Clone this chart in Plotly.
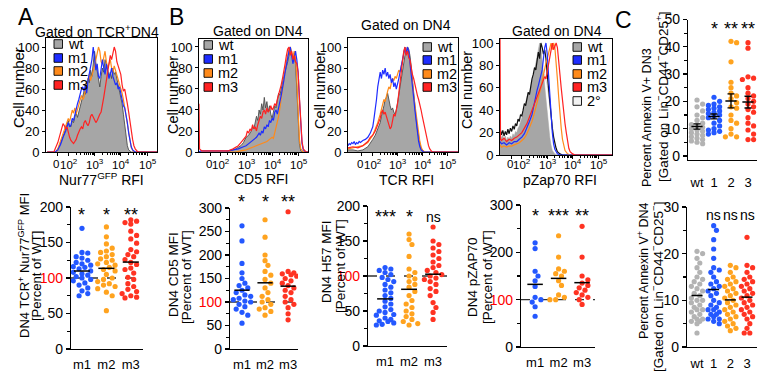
import numpy as np
import plotly.graph_objects as go

W, H = 757, 380
FONT = "Liberation Sans, Arial, Helvetica, sans-serif"

# ---------------- colours ----------------
WT_FILL = "#a6a6a6"; WT_EDGE = "#4d4d4d"
M1 = "#1e2dff"; M2 = "#ff8a1a"; M3 = "#ff2222"
DOT_WT = "#b3b3b3"; DOT_M1 = "#2458ff"; DOT_M2 = "#ffa31f"; DOT_M3 = "#ff3322"

# ---------------- histogram data: (display decade position, % of max) ----------------
NUR77_WT = [(1.2,0),(1.5,0),(1.6,3),(1.7,8),(1.8,15),(1.9,22),(1.95,26),(2.0,30),(2.05,25),(2.1,24),(2.15,30),(2.2,28),(2.25,34),(2.3,37),(2.35,33),(2.4,38),(2.45,44),(2.5,48),(2.55,52),(2.6,58),(2.65,55),(2.7,64),(2.75,70),(2.8,66),(2.85,78),(2.9,72),(2.95,88),(3.0,96),(3.05,85),(3.1,76),(3.15,68),(3.2,62),(3.25,72),(3.3,80),(3.35,76),(3.4,88),(3.45,84),(3.5,78),(3.55,72),(3.6,76),(3.65,70),(3.7,80),(3.75,74),(3.8,76),(3.85,70),(3.9,66),(3.95,60),(4.0,54),(4.05,46),(4.1,36),(4.15,24),(4.2,13),(4.25,6),(4.3,2),(4.4,0),(5.38,0)]
NUR77_M1 = [(1.2,0),(1.5,0),(1.6,2),(1.7,7),(1.8,14),(1.9,20),(2.0,28),(2.05,24),(2.1,26),(2.15,32),(2.2,30),(2.25,36),(2.3,40),(2.35,46),(2.4,50),(2.45,56),(2.5,60),(2.55,62),(2.6,58),(2.65,64),(2.7,56),(2.75,68),(2.8,74),(2.85,82),(2.9,88),(2.95,100),(3.0,90),(3.05,78),(3.1,84),(3.15,72),(3.2,70),(3.25,82),(3.3,88),(3.35,80),(3.4,74),(3.45,84),(3.5,78),(3.55,70),(3.6,74),(3.65,80),(3.7,72),(3.75,68),(3.8,64),(3.85,66),(3.9,60),(3.95,62),(4.0,56),(4.05,50),(4.1,44),(4.15,42),(4.2,36),(4.25,28),(4.3,18),(4.35,10),(4.4,5),(4.45,2),(4.55,0),(5.38,0)]
NUR77_M2 = [(1.2,0),(1.55,0),(1.6,3),(1.7,10),(1.8,18),(1.9,26),(2.0,32),(2.05,29),(2.1,34),(2.15,40),(2.2,37),(2.25,42),(2.3,36),(2.35,40),(2.4,44),(2.45,48),(2.5,54),(2.55,50),(2.6,52),(2.65,60),(2.7,64),(2.75,70),(2.8,74),(2.85,68),(2.9,72),(2.95,78),(3.0,82),(3.05,88),(3.1,94),(3.15,100),(3.2,96),(3.25,86),(3.3,84),(3.35,92),(3.4,96),(3.45,86),(3.5,80),(3.55,84),(3.6,88),(3.65,80),(3.7,76),(3.75,82),(3.8,78),(3.85,74),(3.9,70),(3.95,66),(4.0,62),(4.05,56),(4.1,50),(4.15,42),(4.2,34),(4.25,26),(4.3,18),(4.35,10),(4.4,4),(4.5,0),(5.38,0)]
NUR77_M3 = [(1.2,0),(1.45,0),(1.5,3),(1.6,9),(1.7,18),(1.75,24),(1.8,27),(1.85,25),(1.9,22),(1.95,24),(2.0,18),(2.05,14),(2.1,11),(2.15,9),(2.2,8),(2.25,10),(2.3,12),(2.35,16),(2.4,20),(2.45,22),(2.5,24),(2.55,22),(2.6,28),(2.65,30),(2.7,27),(2.75,25),(2.8,28),(2.85,34),(2.9,36),(2.95,33),(3.0,30),(3.05,28),(3.1,30),(3.15,34),(3.2,36),(3.25,38),(3.3,44),(3.35,52),(3.4,60),(3.45,68),(3.5,78),(3.55,86),(3.6,92),(3.65,88),(3.7,94),(3.75,100),(3.8,96),(3.85,86),(3.9,82),(3.95,78),(4.0,74),(4.05,64),(4.1,58),(4.15,60),(4.2,54),(4.25,46),(4.3,38),(4.35,28),(4.4,20),(4.45,12),(4.5,6),(4.55,3),(4.65,0),(5.38,0)]

CD5_WT = [(1.19,0),(2.2,0),(2.4,1),(2.6,3),(2.8,6),(2.9,9),(3.0,14),(3.1,16),(3.2,20),(3.25,24),(3.3,22),(3.35,28),(3.4,34),(3.45,30),(3.5,40),(3.55,36),(3.6,46),(3.65,40),(3.7,52),(3.75,42),(3.8,48),(3.85,38),(3.9,44),(3.95,36),(4.0,32),(4.05,38),(4.1,44),(4.15,42),(4.2,50),(4.25,56),(4.3,54),(4.35,62),(4.4,66),(4.45,72),(4.5,76),(4.55,80),(4.6,86),(4.65,92),(4.7,98),(4.75,94),(4.8,88),(4.85,92),(4.9,84),(4.95,60),(5.0,30),(5.05,8),(5.1,1),(5.2,0),(5.38,0)]
CD5_M1 = [(1.19,0),(1.25,1),(2.3,1),(2.5,2),(2.7,3),(2.9,5),(3.0,6),(3.1,8),(3.2,10),(3.3,12),(3.4,14),(3.5,18),(3.55,16),(3.6,20),(3.65,18),(3.7,24),(3.75,22),(3.8,26),(3.85,24),(3.9,30),(3.95,28),(4.0,32),(4.05,30),(4.1,38),(4.15,40),(4.2,36),(4.25,44),(4.3,48),(4.35,54),(4.4,60),(4.45,68),(4.5,76),(4.55,84),(4.6,90),(4.65,96),(4.7,100),(4.75,92),(4.8,84),(4.85,90),(4.9,96),(4.95,88),(5.0,76),(5.05,50),(5.1,24),(5.15,8),(5.2,2),(5.3,0),(5.38,0)]
CD5_M2 = [(1.19,0),(2.6,0),(2.8,1),(3.0,2),(3.2,4),(3.4,6),(3.5,7),(3.6,8),(3.7,9),(3.8,10),(3.9,12),(4.0,14),(4.05,13),(4.1,18),(4.15,22),(4.2,28),(4.25,34),(4.3,42),(4.35,52),(4.4,62),(4.45,70),(4.5,78),(4.55,86),(4.6,92),(4.65,98),(4.7,100),(4.75,96),(4.8,90),(4.85,96),(4.9,90),(4.95,70),(5.0,38),(5.05,12),(5.1,3),(5.2,0),(5.38,0)]
CD5_M3 = [(1.19,46),(1.21,3),(1.3,1),(2.3,1),(2.5,3),(2.7,6),(2.8,9),(2.9,12),(3.0,15),(3.05,20),(3.1,18),(3.15,22),(3.2,20),(3.25,26),(3.3,22),(3.35,24),(3.4,20),(3.45,26),(3.5,30),(3.55,34),(3.6,32),(3.65,38),(3.7,40),(3.75,36),(3.8,42),(3.85,38),(3.9,40),(3.95,44),(4.0,40),(4.05,42),(4.1,46),(4.15,44),(4.2,50),(4.25,54),(4.3,58),(4.35,64),(4.4,70),(4.45,76),(4.5,84),(4.55,92),(4.6,98),(4.65,100),(4.7,92),(4.75,96),(4.8,88),(4.85,92),(4.9,86),(4.95,84),(5.0,76),(5.05,52),(5.1,28),(5.15,10),(5.2,3),(5.3,0),(5.38,0)]

TCR_WT = [(1.0,2),(1.2,2),(1.4,1),(1.6,2),(1.8,5),(1.9,8),(2.0,12),(2.1,16),(2.2,22),(2.3,28),(2.35,34),(2.4,38),(2.45,44),(2.5,50),(2.55,52),(2.6,56),(2.65,48),(2.7,44),(2.75,40),(2.8,42),(2.85,38),(2.9,36),(2.95,40),(3.0,46),(3.05,54),(3.1,62),(3.15,70),(3.2,76),(3.25,84),(3.3,92),(3.35,96),(3.4,100),(3.45,98),(3.5,92),(3.55,82),(3.6,68),(3.65,56),(3.7,44),(3.75,32),(3.8,22),(3.85,14),(3.9,8),(3.95,4),(4.0,2),(4.1,0),(5.44,0)]
TCR_M1 = [(1.0,6),(1.05,8),(1.1,7),(1.15,9),(1.2,8),(1.25,10),(1.3,7),(1.35,9),(1.4,8),(1.45,10),(1.5,9),(1.6,11),(1.7,12),(1.8,14),(1.9,18),(2.0,24),(2.05,32),(2.1,40),(2.15,50),(2.2,62),(2.25,72),(2.3,76),(2.35,70),(2.4,78),(2.45,74),(2.5,80),(2.55,72),(2.6,76),(2.65,70),(2.7,74),(2.75,66),(2.8,70),(2.85,62),(2.9,66),(2.95,60),(3.0,64),(3.05,70),(3.1,76),(3.15,82),(3.2,90),(3.25,96),(3.3,100),(3.35,94),(3.4,100),(3.45,96),(3.5,86),(3.55,76),(3.6,64),(3.65,52),(3.7,40),(3.75,28),(3.8,18),(3.85,10),(3.9,5),(3.95,2),(4.05,0),(5.44,0)]
TCR_M2 = [(1.0,3),(1.2,4),(1.4,5),(1.6,6),(1.8,9),(1.9,12),(2.0,16),(2.1,22),(2.2,28),(2.3,36),(2.4,44),(2.45,50),(2.5,48),(2.55,54),(2.6,58),(2.65,62),(2.7,60),(2.75,66),(2.8,70),(2.85,68),(2.9,72),(2.95,70),(3.0,74),(3.05,78),(3.1,76),(3.15,82),(3.2,88),(3.25,94),(3.3,98),(3.35,96),(3.4,100),(3.45,94),(3.5,86),(3.55,76),(3.6,66),(3.65,54),(3.7,44),(3.75,34),(3.8,24),(3.85,16),(3.9,10),(3.95,5),(4.0,2),(4.1,0),(5.44,0)]
TCR_M3 = [(1.0,4),(1.2,5),(1.4,4),(1.6,6),(1.8,10),(1.9,14),(2.0,16),(2.1,20),(2.2,26),(2.3,32),(2.35,38),(2.4,40),(2.45,36),(2.5,38),(2.55,34),(2.6,30),(2.65,26),(2.7,22),(2.75,24),(2.8,30),(2.85,36),(2.9,34),(2.95,40),(3.0,46),(3.05,56),(3.1,66),(3.15,76),(3.2,88),(3.25,96),(3.3,100),(3.35,92),(3.4,96),(3.45,90),(3.5,88),(3.55,80),(3.6,74),(3.65,70),(3.7,64),(3.75,58),(3.8,54),(3.85,50),(3.9,46),(3.95,40),(4.0,34),(4.05,28),(4.1,22),(4.15,16),(4.2,10),(4.25,6),(4.3,3),(4.4,0),(5.44,0)]

PZAP_2ND = [(1.14,0),(1.5,2),(1.9,6),(2.2,14),(2.5,32),(2.7,52),(2.9,72),(3.0,62),(3.1,44),(3.2,26),(3.3,9),(3.4,2),(3.5,0),(5.55,0)]
PZAP_WT_FILL = [(1.14,20),(1.2,15),(1.25,18),(1.3,13),(1.35,17),(1.4,13),(1.45,16),(1.5,14),(1.55,17),(1.6,15),(1.65,19),(1.7,17),(1.75,21),(1.8,20),(1.85,24),(1.9,26),(1.95,30),(2.0,33),(2.05,38),(2.1,42),(2.15,46),(2.2,52),(2.25,56),(2.3,54),(2.35,62),(2.4,66),(2.45,70),(2.5,76),(2.55,82),(2.6,86),(2.65,92),(2.7,100),(2.75,96),(2.8,84),(2.85,72),(2.9,60),(2.95,48),(3.0,36),(3.05,26),(3.1,16),(3.15,9),(3.2,4),(3.3,1),(3.4,0),(5.55,0)]
PZAP_WT_LINE = [(1.14,24),(1.2,18),(1.25,22),(1.3,17),(1.35,21),(1.4,18),(1.45,23),(1.5,19),(1.55,24),(1.6,21),(1.65,26),(1.7,23),(1.75,28),(1.8,26),(1.85,32),(1.9,30),(1.95,36),(2.0,35),(2.05,40),(2.1,46),(2.15,44),(2.2,52),(2.25,56),(2.3,54),(2.35,62),(2.4,68),(2.45,72),(2.5,78),(2.55,76),(2.6,84),(2.65,92),(2.7,86),(2.75,100),(2.8,96),(2.85,90),(2.9,94),(2.95,86),(3.0,72),(3.05,58),(3.1,46),(3.15,34),(3.2,24),(3.25,16),(3.3,10),(3.35,6),(3.4,3),(3.5,1),(3.6,0),(5.55,0)]
PZAP_M1 = [(1.14,12),(1.2,10),(1.3,11),(1.4,9),(1.5,11),(1.6,10),(1.7,12),(1.8,12),(1.9,14),(2.0,16),(2.1,19),(2.2,24),(2.3,30),(2.4,36),(2.45,42),(2.5,48),(2.55,54),(2.6,58),(2.65,62),(2.7,66),(2.75,72),(2.8,76),(2.85,86),(2.9,96),(2.95,100),(3.0,90),(3.05,72),(3.1,52),(3.15,34),(3.2,20),(3.25,10),(3.3,5),(3.4,1),(3.5,0),(5.55,0)]
PZAP_M2 = [(1.14,9),(1.2,7),(1.3,8),(1.4,7),(1.5,8),(1.6,8),(1.7,9),(1.8,10),(1.9,11),(2.0,13),(2.1,15),(2.2,19),(2.3,24),(2.4,30),(2.5,38),(2.6,46),(2.7,54),(2.75,60),(2.8,66),(2.85,72),(2.9,78),(2.95,82),(3.0,86),(3.05,90),(3.1,96),(3.15,100),(3.2,94),(3.25,100),(3.3,96),(3.35,84),(3.4,68),(3.45,52),(3.5,36),(3.55,24),(3.6,14),(3.65,8),(3.7,4),(3.8,1),(3.9,0),(5.55,0)]
PZAP_M3 = [(1.14,106),(1.16,14),(1.2,13),(1.3,15),(1.4,12),(1.5,14),(1.6,13),(1.7,15),(1.8,16),(1.9,18),(2.0,20),(2.1,24),(2.2,28),(2.3,34),(2.4,40),(2.5,46),(2.6,52),(2.7,58),(2.8,64),(2.9,70),(2.95,68),(3.0,74),(3.05,80),(3.1,86),(3.15,92),(3.2,100),(3.25,94),(3.3,98),(3.35,100),(3.4,96),(3.45,86),(3.5,72),(3.55,60),(3.6,48),(3.65,38),(3.7,28),(3.75,20),(3.8,12),(3.85,6),(3.9,3),(4.0,1),(4.1,0),(5.55,0)]

HIST_TICKTEXT = ["0", "10<sup>2</sup>", "10<sup>3</sup>", "10<sup>4</sup>", "10<sup>5</sup>"]
HIST_YTICKS = [0, 20, 40, 60, 80, 100]

# ---------------- dot-plot data ----------------
MUT_CATS = ["m1", "m2", "m3"]
C_CATS = ["wt", "1", "2", "3"]

NUR77_MFI_M1 = [170,136,135,130,128,125,122,120,118,116,115,113,110,108,106,104,102,100,98,96,93,90,86,82,78,75]
NUR77_MFI_M2 = [172,158,148,142,138,136,133,130,127,125,122,120,118,115,112,110,105,100,98,95,92,88,80,90,75,85,54]
NUR77_MFI_M3 = [182,180,178,176,166,160,155,149,140,137,133,130,126,122,119,114,112,107,101,98,92,88,84,81,78,75,73,72]

CD5_MFI_M1 = [262,230,182,162,150,140,135,130,125,120,115,112,108,105,102,100,95,90,85,78,72,55]
CD5_MFI_M2 = [275,238,200,188,178,165,157,148,140,130,120,112,105,100,95,88,85,80,72]
CD5_MFI_M3 = [292,165,162,160,158,155,150,145,140,135,130,125,120,112,105,100,95,88,75,62]

H57_MFI_M1 = [112,110,108,105,102,98,95,92,88,84,80,76,72,68,64,60,56,52,48,44,40,36,33,31,30,35,38,45,50]
H57_MFI_M2 = [160,152,145,128,110,105,100,96,92,88,84,78,72,65,60,55,50,46,42,38,35,32,30]
H57_MFI_M3 = [170,150,145,140,135,130,125,120,115,112,108,105,102,100,97,95,92,88,82,78,72,62,55,48,38]

PZAP_MFI_M1 = [220,208,160,150,140,128,105,100,95,85,65]
PZAP_MFI_M2 = [235,190,165,160,155,150,140,130,110,105,100,100]
PZAP_MFI_M3 = [255,190,150,142,135,130,125,120,115,110,105,100,90]

DN3_WT = [20.5,19,18,16.5,15,14,13,12,11.5,11,10.5,10,9.5,9,8.5,8,7.5,7,6.5,6,5.5,5,4.5]
DN3_M1 = [21.5,20,19,18.5,18,17.5,17,16.5,16,15.5,15,14.5,14,13,12,11,10,9.5,9,8.5,8]
DN3_M2 = [42,41.5,34.5,27,25,23,22,21,19.5,18,17.5,15,13,12,10,8,7,7]
DN3_M3 = [41.5,39.5,29,28.5,28,25,23,22,21,20,19,18,17,16,14,12,11,9.5,8,6,6]

DN4_WT = [20.5,20,19,18,17,16,15,14.5,14,13.5,13,12.5,12,11.5,11,10.5,10,10,9.5,9,8.5,8,8,7.5,7,6.5,6,6,5.5,5.5,5,3]
DN4_M1 = [26,25,23,21,19,17,16.5,16,15,14,13.5,13,12.5,12,11.5,11,10,9.5,9,8.5,8,7.5,7,6.5,6,5.5,5,6,7,8]
DN4_M2 = [17.5,17,16,15,14.5,14,13.5,13,12.5,12,11.5,11,10.5,10,9.5,9,8.5,8,7.5,7,6.5,6,5.5,5,4.5,4,3.5]
DN4_M3 = [23.5,17.5,17,16,15,14.5,14,13.5,13,12.5,12,11.5,11,10.5,10,9.5,9,8.5,8,7.5,7,6.5,6,5,4,3,3]

NUR77_SIG = ["*", "*", "**"]
CD5_SIG = ["*", "*", "**"]
H57_SIG = ["***", "*", "ns"]
PZAP_SIG = ["*", "***", "**"]
DN3_SIG = ["", "*", "**", "**"]
DN4_SIG = ["", "ns", "ns", "ns"]
REF_PERCENT = 100

# ---------------- helpers ----------------
def dom_x(l, r):
    return [l / W, r / W]

def dom_y(t, b):
    return [1 - b / H, 1 - t / H]

def px(x):
    return x / W

def py(y):
    return 1 - y / H

def aid(n):
    return "" if n == 1 else str(n)

fig = go.Figure()
layout = {}
annotations = []
shapes = []

def ann(text, x, y, size=14, angle=0, xanchor="center", yanchor="middle", color="black",
        xref="paper", xshift=0):
    annotations.append(dict(text=text, x=(px(x) if xref == "paper" else x), y=py(y), xref=xref, yref="paper",
                            showarrow=False, textangle=angle, xanchor=xanchor, yanchor=yanchor,
                            xshift=xshift, font=dict(size=size, color=color, family=FONT)))

def split(pairs):
    return [p[0] for p in pairs], [p[1] for p in pairs]

# ---------------- histograms ----------------
HIST = [
    dict(n=1, x=(46, 157), y=(38, 152), xr=(1.15, 5.38), yr=(0, 108.6), zero=1.58,
         curves=[("fill", NUR77_WT), (M2, NUR77_M2), (M1, NUR77_M1), (M3, NUR77_M3)],
         leg=dict(x=54, rows=[44, 58, 71, 85], items=[("wt", WT_FILL), ("m1", M1), ("m2", M2), ("m3", M3)])),
    dict(n=2, x=(199, 308), y=(39, 152), xr=(1.19, 5.38), yr=(0, 107.6), zero=1.62,
         curves=[("fill", CD5_WT), (M2, CD5_M2), (M1, CD5_M1), (M3, CD5_M3)],
         leg=dict(x=204, rows=[45, 59, 73, 87], items=[("wt", WT_FILL), ("m1", M1), ("m2", M2), ("m3", M3)])),
    dict(n=3, x=(348, 458), y=(38, 152), xr=(1.0, 5.44), yr=(0, 108.6), zero=1.55,
         curves=[("fill", TCR_WT), (M2, TCR_M2), (M1, TCR_M1), (M3, TCR_M3)],
         leg=dict(x=423, rows=[47, 60, 74, 87], items=[("wt", WT_FILL), ("m1", M1), ("m2", M2), ("m3", M3)])),
    dict(n=4, x=(500, 612), y=(39, 155), xr=(1.14, 5.55), yr=(0, 103.6), zero=1.61,
         curves=[("second", PZAP_2ND), ("fillonly", PZAP_WT_FILL), ("#111111", PZAP_WT_LINE),
                 (M2, PZAP_M2), (M1, PZAP_M1), (M3, PZAP_M3)],
         leg=dict(x=573, rows=[47, 60, 74, 87, 101], items=[("wt", WT_FILL), ("m1", M1), ("m2", M2), ("m3", M3), ("2°", "#f2f2f2")])),
]

minor_log = [np.log10(k) + d for d in (2, 3, 4) for k in range(2, 10)]

for hp in HIST:
    n = hp["n"]; a = aid(n)
    layout["xaxis" + a] = dict(domain=dom_x(*hp["x"]), range=list(hp["xr"]), anchor="y" + a,
                               automargin=False,
                               showline=True, linecolor="black", linewidth=1, mirror=True,
                               ticks="outside", ticklen=3, tickcolor="black",
                               tickvals=[hp["zero"], 2, 3, 4, 5], showticklabels=False,
                               showgrid=False, zeroline=False, fixedrange=True,
                               minor=dict(tickvals=minor_log, ticks="outside", ticklen=2, tickcolor="black"))
    layout["yaxis" + a] = dict(domain=dom_y(*hp["y"]), range=list(hp["yr"]), anchor="x" + a,
                               automargin=False,
                               showline=True, linecolor="black", linewidth=1, mirror=True,
                               ticks="outside", ticklen=3, tickcolor="black",
                               tickvals=HIST_YTICKS, tickfont=dict(size=13, family=FONT, color="black"),
                               showgrid=False, zeroline=False, fixedrange=True)
    # x tick labels (superscript exponents) placed just under the axis
    for tv, tt in zip([hp["zero"], 2, 3, 4, 5], HIST_TICKTEXT):
        ann(tt, tv, 163.5, size=11.5, xref="x" + a, xshift=(-1.5 if tt == "0" else 0.5))
    for kind, pairs in hp["curves"]:
        xs, ys = split(pairs)
        if kind == "fill":
            tr = go.Scatter(x=xs, y=ys, mode="lines", fill="tozeroy", fillcolor=WT_FILL,
                            line=dict(color=WT_EDGE, width=0.9))
        elif kind == "fillonly":
            tr = go.Scatter(x=xs, y=ys, mode="lines", fill="tozeroy", fillcolor=WT_FILL,
                            line=dict(color=WT_FILL, width=0.5))
        elif kind == "second":
            tr = go.Scatter(x=xs, y=ys, mode="lines", fill="tozeroy", fillcolor="white",
                            line=dict(color="#d0d0d0", width=0.8))
        else:
            tr = go.Scatter(x=xs, y=ys, mode="lines", line=dict(color=kind, width=1.2))
        tr.update(xaxis="x" + a, yaxis="y" + a, showlegend=False, hoverinfo="skip")
        fig.add_trace(tr)
    lg = hp["leg"]
    for (lab, col), ry in zip(lg["items"], lg["rows"]):
        shapes.append(dict(type="rect", xref="paper", yref="paper",
                           x0=px(lg["x"]), x1=px(lg["x"] + 8.5), y0=py(ry + 4.3), y1=py(ry - 4.3),
                           fillcolor=col, line=dict(color="black", width=0.9)))
        ann(lab, lg["x"] + 11.5, ry, size=14.5, xanchor="left")

# histogram texts
ann("A", 26, 17, size=23)
ann("B", 176, 17, size=23)
ann("C", 623, 20, size=23)
ann("Gated on TCR<sup>+</sup>DN4", 97, 31, size=14)
ann("Gated on DN4", 258, 31, size=14)
ann("Gated on DN4", 406, 25, size=14)
ann("Gated on DN4", 557, 31, size=14)
ann("Nur77<sup>GFP</sup> RFI", 101, 179, size=14)
ann("CD5 RFI", 261, 179, size=14)
ann("TCR RFI", 406, 180, size=14)
ann("pZap70 RFI", 560, 180, size=14)
ann("Cell number", 18, 88, size=15, angle=-90)
ann("Cell number", 173, 95, size=14.5, angle=-90)
ann("Cell number", 320, 90, size=14.5, angle=-90)
ann("Cell number", 467, 90, size=14.5, angle=-90)

# ---------------- dot plots ----------------
def swarm(vals, ppy, ppx, d=5.2, step=3.0, maxk=3):
    vals = np.asarray(vals, float)
    order = np.argsort(-vals, kind="stable")
    placed = []
    xs = np.zeros(len(vals))
    cands = [0]
    for k in range(1, maxk + 1):
        cands += [k, -k]
    for i in order:
        yv = vals[i] * ppy
        best, bestd = None, -1
        for k in cands:
            xv = k * step
            md = min([np.hypot(xv - a, yv - b) for a, b in placed] + [99])
            if md >= d:
                best = xv
                break
            if md > bestd:
                bestd, best = md, xv
        placed.append((best, yv))
        xs[i] = best / ppx
    return xs

def red100(v):
    return '<span style="color:#ff0000">%d</span>' % v if v == REF_PERCENT else str(v)

DOTS = [
    dict(n=5, x=(688, 757), y=(19.5, 160), xr=(-0.53, 3.53), yr=(-1.5, 50), cats=C_CATS,
         data=[DN3_WT, DN3_M1, DN3_M2, DN3_M3], cols=[DOT_WT, DOT_M1, DOT_M2, DOT_M3],
         yt=[0, 10, 20, 30, 40, 50], minor=5, sig=DN3_SIG, sig_y=46.5, sem=True, ref=False,
         half=0.33, maxk=2, step=2.8, stand=10),
    dict(n=6, x=(71, 143), y=(207, 349), xr=(-0.45, 2.5), yr=(0, 200), cats=MUT_CATS,
         data=[NUR77_MFI_M1, NUR77_MFI_M2, NUR77_MFI_M3], cols=[DOT_M1, DOT_M2, DOT_M3],
         yt=[0, 50, 100, 150, 200], minor=25, sig=NUR77_SIG, sig_y=189, sem=False, ref=True,
         half=0.33, maxk=3, step=2.9, stand=3),
    dict(n=7, x=(230, 298), y=(208, 349), xr=(-0.52, 2.43), yr=(0, 300), cats=MUT_CATS,
         data=[CD5_MFI_M1, CD5_MFI_M2, CD5_MFI_M3], cols=[DOT_M1, DOT_M2, DOT_M3],
         yt=[0, 50, 100, 150, 200, 250, 300], minor=25, sig=CD5_SIG, sig_y=312, sem=False, ref=True,
         half=0.33, maxk=3, step=2.9, stand=3),
    dict(n=8, x=(368, 447), y=(206, 346), xr=(-0.71, 2.58), yr=(0, 200), cats=MUT_CATS,
         data=[H57_MFI_M1, H57_MFI_M2, H57_MFI_M3], cols=[DOT_M1, DOT_M2, DOT_M3],
         yt=[0, 50, 100, 150, 200], minor=25, sig=H57_SIG, sig_y=184, sem=False, ref=True,
         half=0.33, maxk=3, step=2.9, stand=3),
    dict(n=9, x=(521, 595), y=(205, 347), xr=(-0.6, 2.55), yr=(0, 300), cats=MUT_CATS,
         data=[PZAP_MFI_M1, PZAP_MFI_M2, PZAP_MFI_M3], cols=[DOT_M1, DOT_M2, DOT_M3],
         yt=[0, 100, 200, 300], minor=50, sig=PZAP_SIG, sig_y=276, sem=False, ref=True,
         half=0.33, maxk=3, step=2.9, stand=3),
    dict(n=10, x=(687, 757), y=(207, 347), xr=(-0.6, 3.6), yr=(0, 30), cats=C_CATS,
         data=[DN4_WT, DN4_M1, DN4_M2, DN4_M3], cols=[DOT_WT, DOT_M1, DOT_M2, DOT_M3],
         yt=[0, 10, 20, 30], minor=5, sig=DN4_SIG, sig_y=28.3, sem=False, ref=False,
         half=0.33, maxk=2, step=2.8, stand=4),
]

for dp in DOTS:
    n = dp["n"]; a = aid(n)
    wpx = dp["x"][1] - dp["x"][0]; hpx = dp["y"][1] - dp["y"][0]
    ppx = wpx / (dp["xr"][1] - dp["xr"][0]); ppy = hpx / (dp["yr"][1] - dp["yr"][0])
    layout["xaxis" + a] = dict(domain=dom_x(*dp["x"]), range=list(dp["xr"]), anchor="y" + a,
                               automargin=False,
                               showline=True, linecolor="black", linewidth=1.2,
                               ticks="", tickvals=list(range(len(dp["cats"]))), ticktext=dp["cats"],
                               tickfont=dict(size=13, family=FONT, color="black"),
                               ticklabelstandoff=dp["stand"],
                               showgrid=False, zeroline=False, fixedrange=True)
    layout["yaxis" + a] = dict(domain=dom_y(*dp["y"]), range=list(dp["yr"]), anchor="x" + a,
                               automargin=False,
                               showline=True, linecolor="black", linewidth=1.2,
                               ticks="outside", ticklen=4, tickcolor="black", tickwidth=1.2,
                               tickvals=dp["yt"], ticktext=[red100(v) if dp["ref"] else str(v) for v in dp["yt"]],
                               tickfont=dict(size=14, family=FONT, color="black"),
                               minor=dict(tick0=0, dtick=dp["minor"], ticks="outside", ticklen=2.5, tickcolor="black"),
                               showgrid=False, zeroline=False, fixedrange=True)
    if dp["ref"]:
        shapes.append(dict(type="line", xref="x" + a + " domain", yref="y" + a, x0=0, x1=1,
                           y0=REF_PERCENT, y1=REF_PERCENT, layer="below",
                           line=dict(color="#333333", width=1.3, dash="dash")))
    y0, y1 = dp["yr"]
    for i, (vals, col) in enumerate(zip(dp["data"], dp["cols"])):
        off = swarm(vals, ppy, ppx, maxk=dp["maxk"], step=dp["step"])
        fig.add_trace(go.Scatter(x=i + off, y=vals, mode="markers",
                                 marker=dict(size=5.2, color=col, line=dict(width=0)),
                                 xaxis="x" + a, yaxis="y" + a, showlegend=False, hoverinfo="skip"))
        m = float(np.mean(vals))
        fig.add_trace(go.Scatter(x=[i - dp["half"], i + dp["half"]], y=[m, m], mode="lines",
                                 line=dict(color="black", width=1.5),
                                 xaxis="x" + a, yaxis="y" + a, showlegend=False, hoverinfo="skip"))
        if dp["sem"]:
            sem = float(np.std(vals, ddof=1) / np.sqrt(len(vals)))
            fig.add_trace(go.Scatter(x=[i], y=[m], mode="markers", marker=dict(size=1, color="black"),
                                     error_y=dict(type="data", array=[sem], color="black", thickness=1.3, width=3.5),
                                     xaxis="x" + a, yaxis="y" + a, showlegend=False, hoverinfo="skip"))
        s = dp["sig"][i]
        if s:
            big = s.startswith("*")
            annotations.append(dict(text=s, x=i, y=(dp["sig_y"] - y0) / (y1 - y0),
                                    xref="x" + a, yref="y" + a + " domain",
                                    showarrow=False, xanchor="center", yanchor="middle",
                                    font=dict(size=18 if big else 14, family=FONT, color="black")))

# dot-plot axis titles (two lines each)
ann("DN4 TCR<sup>+</sup> Nur77<sup>GFP</sup> MFI", 24, 266, size=13, angle=-90)
ann("[Percent of WT]", 36, 276, size=13, angle=-90)
ann("DN4 CD5 MFI", 173, 275, size=13.5, angle=-90)
ann("[Percent of WT]", 186, 277, size=13.5, angle=-90)
ann("DN4 H57 MFI", 326, 262, size=13.5, angle=-90)
ann("[Percent of WT]", 340, 266, size=13.5, angle=-90)
ann("DN4 pZAP70", 472, 277, size=13.5, angle=-90)
ann("[Percent of WT]", 487, 277, size=13.5, angle=-90)
ann("Percent Annexin V+ DN3", 647, 118, size=12.5, angle=-90)
ann("[Gated on Lin<sup>−</sup>CD44<sup>−</sup>CD25<sup>+</sup>]", 662, 97, size=13.5, angle=-90)
ann("Percent Annexin V<sup>+</sup> DN4", 643, 271, size=12.5, angle=-90)
ann("[Gated on Lin<sup>−</sup>CD44<sup>−</sup>CD25<sup>−</sup>]", 657, 287, size=13.5, angle=-90)

fig.update_layout(width=W, height=H, margin=dict(l=0, r=0, t=0, b=0, autoexpand=False),
                  paper_bgcolor="white", plot_bgcolor="white",
                  font=dict(family=FONT, color="black"),
                  showlegend=False, annotations=annotations, shapes=shapes, **layout)

fig.write_html("out.html", config={"displayModeBar": False, "staticPlot": True},
               post_script="document.body.style.margin='0px';document.body.style.overflow='hidden';")
